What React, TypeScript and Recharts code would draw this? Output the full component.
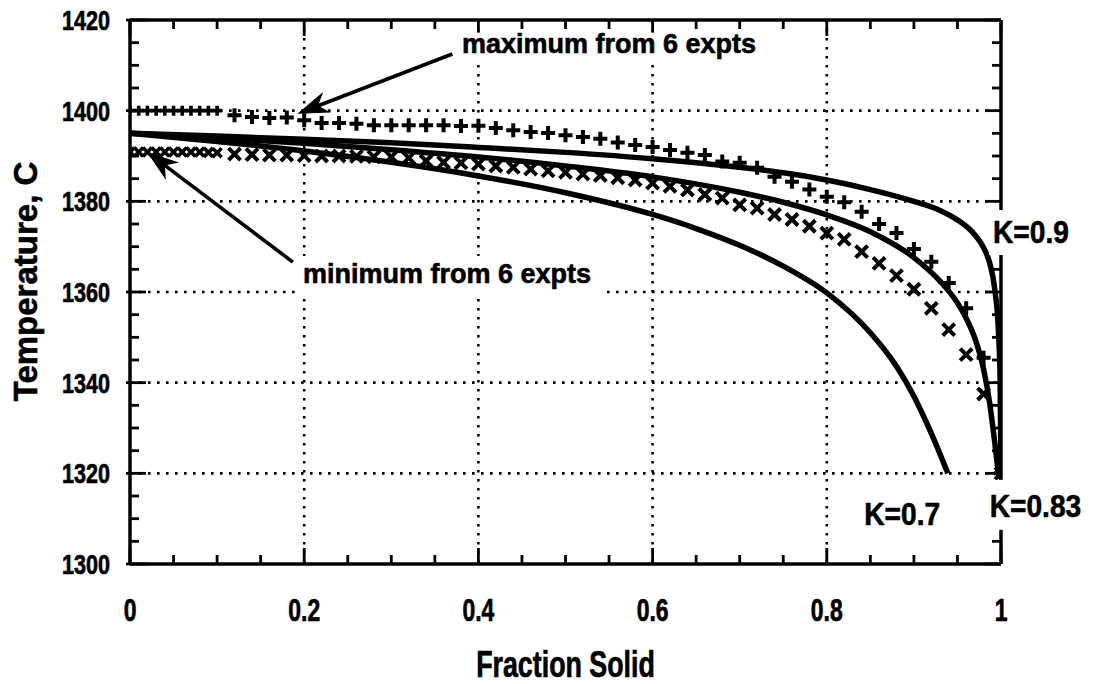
import React from 'react';
import {
  ComposedChart,
  Line,
  Scatter,
  XAxis,
  YAxis,
  CartesianGrid,
  ReferenceLine,
  ReferenceDot,
  Label,
} from 'recharts';

// ---------- axis ticks ----------
const xTicks = [0, 0.05, 0.1, 0.15, 0.2, 0.25, 0.3, 0.35, 0.4, 0.45, 0.5, 0.55, 0.6, 0.65, 0.7, 0.75, 0.8, 0.85, 0.9, 0.95, 1];
const yTicks = [1300, 1305, 1310, 1315, 1320, 1325, 1330, 1335, 1340, 1345, 1350, 1355, 1360, 1365, 1370, 1375, 1380, 1385, 1390, 1395, 1400, 1405, 1410, 1415, 1420];
const xGrid = [0.2, 0.4, 0.6, 0.8];
const yGrid = [1320, 1340, 1360, 1380, 1400];

// ---------- Scheil curves ----------
const k09X = [0, 0.1, 0.2, 0.3, 0.4, 0.5, 0.6, 0.7, 0.75, 0.8, 0.85, 0.9, 0.93, 0.95, 0.97, 0.98, 0.987, 0.993, 0.997, 0.999, 1.0];
const k09T = [1395.0, 1394.4, 1393.7, 1392.9, 1391.9, 1390.8, 1389.4, 1387.5, 1386.3, 1384.7, 1382.6, 1380.0, 1378.0, 1375.9, 1372.6, 1369.8, 1366.4, 1360.4, 1351.6, 1340.6, 1320.0];

const k083X = [0, 0.1, 0.2, 0.3, 0.4, 0.5, 0.6, 0.7, 0.75, 0.8, 0.85, 0.9, 0.93, 0.95, 0.96, 0.97, 0.98, 0.987, 0.993, 0.997];
const k083T = [1395.0, 1394.0, 1392.8, 1391.4, 1389.8, 1387.8, 1385.4, 1382.0, 1379.8, 1377.0, 1373.3, 1367.6, 1362.4, 1357.6, 1354.2, 1349.8, 1343.0, 1335.5, 1326.5, 1320.0];

const k07X = [0, 0.1, 0.2, 0.3, 0.4, 0.5, 0.6, 0.65, 0.7, 0.75, 0.8, 0.85, 0.88, 0.9, 0.92, 0.939];
const k07T = [1395.0, 1393.2, 1391.1, 1388.6, 1385.6, 1381.9, 1377.1, 1374.0, 1370.3, 1365.7, 1359.8, 1351.0, 1343.6, 1337.0, 1328.8, 1320.0];

// ---------- experimental bounds ----------
const denseX = [0, 0.01, 0.02, 0.03, 0.04, 0.05, 0.06, 0.07, 0.08, 0.09, 0.1];
const maxDenseT = [1400, 1400, 1400, 1400, 1400, 1400, 1400, 1400, 1400, 1400, 1400];
const minDenseT = [1390.9, 1390.9, 1390.9, 1390.9, 1390.9, 1390.9, 1390.9, 1390.9, 1390.9, 1390.8, 1390.7];

const sparseX = [0.12, 0.14, 0.16, 0.18, 0.2, 0.22, 0.24, 0.26, 0.28, 0.3, 0.32, 0.34, 0.36, 0.38, 0.4, 0.42, 0.44, 0.46, 0.48, 0.5, 0.52, 0.54, 0.56, 0.58, 0.6, 0.62, 0.64, 0.66, 0.68, 0.7, 0.72, 0.74, 0.76, 0.78, 0.8, 0.82, 0.84, 0.86, 0.88, 0.9, 0.92, 0.94, 0.96, 0.98, 1.0];
const maxT = [1399.0, 1398.6, 1398.4, 1398.5, 1397.9, 1397.3, 1397.3, 1397.1, 1396.8, 1396.8, 1396.8, 1396.8, 1396.8, 1396.6, 1396.7, 1396.2, 1395.7, 1395.3, 1395.1, 1394.6, 1394.2, 1393.8, 1393.0, 1392.4, 1392.0, 1391.3, 1390.7, 1390.2, 1388.8, 1388.5, 1387.4, 1385.4, 1384.3, 1382.6, 1381.0, 1379.8, 1377.7, 1375.0, 1373.0, 1369.5, 1366.7, 1362.0, 1356.4, 1345.5, 1320.0];
const minT = [1390.4, 1390.3, 1390.2, 1390.2, 1390.1, 1390.0, 1390.0, 1389.9, 1389.8, 1389.8, 1389.6, 1388.9, 1388.6, 1388.5, 1388.2, 1387.8, 1387.5, 1387.1, 1386.7, 1386.4, 1386.0, 1385.7, 1385.2, 1384.7, 1384.0, 1383.3, 1382.5, 1381.5, 1380.7, 1379.2, 1378.5, 1377.1, 1376.0, 1374.5, 1373.0, 1371.6, 1368.9, 1366.3, 1363.6, 1360.6, 1356.4, 1351.7, 1346.2, 1337.5, 1320.0];

// ---------- annotations (data coordinates) ----------
const maxArrow = [{ x: 0.370, y: 1412.5 }, { x: 0.192, y: 1399.3 }];
const minArrow = [{ x: 0.187, y: 1366.6 }, { x: 0.0195, y: 1390.9 }];
const maxLabelPos = { x: 0.3812, y: 1412.8 };
const minLabelPos = { x: 0.1986, y: 1362.0 };
const k09LabelPos = { x: 0.9908, y: 1370.8 };
const k083LabelPos = { x: 0.987, y: 1310.4 };
const k07LabelPos = { x: 0.843, y: 1308.6 };

const toPts = (xs: number[], ts: number[]) => xs.map((x, i) => ({ x, t: ts[i] }));

const k09 = toPts(k09X, k09T);
const k083 = toPts(k083X, k083T);
const k07 = toPts(k07X, k07T);
const maxDense = toPts(denseX, maxDenseT);
const minDense = toPts(denseX, minDenseT);
const maxSparse = toPts(sparseX, maxT);
const minSparse = toPts(sparseX, minT);

const FONT = '"Liberation Sans", Arial, Helvetica, sans-serif';
const INK = '#000';

const isMajor = (v: number, step: number) => Math.abs(v / step - Math.round(v / step)) < 1e-6;
const fmtX = (v: number) => (v === 0 ? '0' : v === 1 ? '1' : v.toFixed(1));

const BottomTick = (p: any) => {
  const { x, y, payload } = p;
  const v = payload.value;
  const major = isMajor(v, 0.2);
  return (
    <g>
      <path d={`M${x},${y}V${y - (major ? 16 : 9)}`} stroke={INK} strokeWidth={2.8} fill="none" />
      {major && (
        <text
          transform={`translate(${x},${y + 57}) scale(0.74,1)`}
          textAnchor="middle"
          fontSize={31}
          fontWeight="bold"
          fontFamily={FONT}
          fill={INK}
          stroke={INK}
          strokeWidth={0.7}
        >
          {fmtX(v)}
        </text>
      )}
    </g>
  );
};

const TopTick = (p: any) => {
  const { x, y, payload } = p;
  const major = isMajor(payload.value, 0.2);
  return <path d={`M${x},${y}V${y + (major ? 16 : 9)}`} stroke={INK} strokeWidth={2.8} fill="none" />;
};

const LeftTick = (p: any) => {
  const { x, y, payload } = p;
  const v = payload.value;
  const major = isMajor(v, 20);
  return (
    <g>
      <path d={`M${x - (major ? 4 : 0)},${y}H${x + (major ? 16 : 9)}`} stroke={INK} strokeWidth={2.8} fill="none" />
      {major && (
        <text
          transform={`translate(${x - 20},${y + 10}) scale(0.77,1)`}
          textAnchor="end"
          fontSize={28}
          fontWeight="bold"
          fontFamily={FONT}
          fill={INK}
          stroke={INK}
          strokeWidth={0.7}
        >
          {String(v)}
        </text>
      )}
    </g>
  );
};

const RightTick = (p: any) => {
  const { x, y, payload } = p;
  const major = isMajor(payload.value, 20);
  return <path d={`M${x},${y}H${x - (major ? 16 : 9)}`} stroke={INK} strokeWidth={2.8} fill="none" />;
};

const plusShape = (size: number, sw: number) => (p: any) => {
  const { cx, cy } = p;
  return (
    <path d={`M${cx - size},${cy}H${cx + size}M${cx},${cy - size}V${cy + size}`} stroke={INK} strokeWidth={sw} fill="none" />
  );
};

const crossShape = (size: number, sw: number) => (p: any) => {
  const { cx, cy } = p;
  return (
    <path
      d={`M${cx - size},${cy - size}L${cx + size},${cy + size}M${cx - size},${cy + size}L${cx + size},${cy - size}`}
      stroke={INK}
      strokeWidth={sw}
      fill="none"
    />
  );
};

const arrowShape = (p: any) => {
  const { x1, y1, x2, y2 } = p;
  const ang = Math.atan2(y2 - y1, x2 - x1);
  const len = 32;
  const hw = 11;
  const bx = x2 - len * Math.cos(ang);
  const by = y2 - len * Math.sin(ang);
  const px = -Math.sin(ang) * hw;
  const py = Math.cos(ang) * hw;
  const nx = bx + 0.3 * (x2 - bx);
  const ny = by + 0.3 * (y2 - by);
  return (
    <g>
      <path d={`M${x1},${y1}L${nx},${ny}`} stroke={INK} strokeWidth={3.6} fill="none" />
      <polygon points={`${x2},${y2} ${bx + px},${by + py} ${nx},${ny} ${bx - px},${by - py}`} fill={INK} />
    </g>
  );
};

const textShape = (label: string, fontSize: number, scaleX: number, box: number[] | null) => (p: any) => {
  const { cx, cy } = p;
  return (
    <g>
      {box && <rect x={cx + box[0]} y={cy + box[1]} width={box[2]} height={box[3]} fill="#fff" />}
      <text
        transform={`translate(${cx},${cy}) scale(${scaleX},1)`}
        fontSize={fontSize}
        fontWeight="bold"
        fontFamily={FONT}
        fill={INK}
        stroke={INK}
        strokeWidth={0.6}
      >
        {label}
      </text>
    </g>
  );
};

const YTitle = (p: any) => {
  const vb = p.viewBox || { x: 0, y: 20, width: 130, height: 544 };
  const cx = vb.x + 25;
  const cy = vb.y + vb.height / 2 - 10.5;
  return (
    <text
      x={cx}
      y={cy + 12}
      transform={`rotate(-90, ${cx}, ${cy})`}
      textAnchor="middle"
      fontSize={33}
      fontWeight="bold"
      fontFamily={FONT}
      fill={INK}
      stroke={INK}
      strokeWidth={0.6}
    >
      Temperature, C
    </text>
  );
};

const XTitle = (p: any) => {
  const vb = p.viewBox || { x: 130, y: 564, width: 871, height: 120 };
  const cx = vb.x + vb.width / 2;
  const by = vb.y + 113;
  return (
    <text
      transform={`translate(${cx},${by}) scale(0.725,1)`}
      textAnchor="middle"
      fontSize={37}
      fontWeight="bold"
      fontFamily={FONT}
      fill={INK}
      stroke={INK}
      strokeWidth={0.7}
    >
      Fraction Solid
    </text>
  );
};

export default function App() {
  return (
    <div style={{ position: 'absolute', left: 0, top: 0, width: 1094, height: 684, background: '#fff' }}>
      <ComposedChart width={1094} height={684} margin={{ top: 19, right: 92, bottom: 0, left: 0 }}>
        <CartesianGrid
          stroke={INK}
          strokeWidth={2.6}
          strokeDasharray="2.6 6.4"
          horizontalValues={yGrid}
          verticalValues={xGrid}
        />
        <XAxis
          xAxisId={0}
          type="number"
          dataKey="x"
          domain={[0, 1]}
          allowDataOverflow
          ticks={xTicks}
          interval={0}
          height={120}
          tickSize={0}
          tickMargin={0}
          tickLine={false}
          axisLine={{ stroke: INK, strokeWidth: 3.5 }}
          tick={(p: any) => <BottomTick {...p} />}
        >
          <Label content={(p: any) => <XTitle {...p} />} />
        </XAxis>
        <XAxis
          xAxisId="top"
          orientation="top"
          type="number"
          dataKey="x"
          domain={[0, 1]}
          allowDataOverflow
          ticks={xTicks}
          interval={0}
          height={1}
          tickSize={0}
          tickMargin={0}
          tickLine={false}
          axisLine={{ stroke: INK, strokeWidth: 3.5 }}
          tick={(p: any) => <TopTick {...p} />}
        />
        <YAxis
          yAxisId={0}
          type="number"
          dataKey="t"
          domain={[1300, 1420]}
          allowDataOverflow
          ticks={yTicks}
          interval={0}
          width={130}
          tickSize={0}
          tickMargin={0}
          tickLine={false}
          axisLine={{ stroke: INK, strokeWidth: 3.5 }}
          tick={(p: any) => <LeftTick {...p} />}
        >
          <Label content={(p: any) => <YTitle {...p} />} />
        </YAxis>
        <YAxis
          yAxisId="right"
          orientation="right"
          type="number"
          dataKey="t"
          domain={[1300, 1420]}
          allowDataOverflow
          ticks={yTicks}
          interval={0}
          width={1}
          tickSize={0}
          tickMargin={0}
          tickLine={false}
          axisLine={{ stroke: INK, strokeWidth: 3.5 }}
          tick={(p: any) => <RightTick {...p} />}
        />

        <Line data={k09} dataKey="t" type="monotone" stroke={INK} strokeWidth={5.5} dot={false} isAnimationActive={false} />
        <Line data={k083} dataKey="t" type="monotone" stroke={INK} strokeWidth={5.5} dot={false} isAnimationActive={false} />
        <Line data={k07} dataKey="t" type="monotone" stroke={INK} strokeWidth={5.5} dot={false} isAnimationActive={false} />

        <Scatter data={maxDense} shape={plusShape(5, 3.6)} isAnimationActive={false} />
        <Scatter data={minDense} shape={crossShape(4.5, 3.6)} isAnimationActive={false} />
        <Scatter data={maxSparse} shape={plusShape(7, 4)} isAnimationActive={false} />
        <Scatter data={minSparse} shape={crossShape(6, 4)} isAnimationActive={false} />

        <ReferenceLine segment={maxArrow} shape={arrowShape} ifOverflow="visible" zIndex={2100} />
        <ReferenceLine segment={minArrow} shape={arrowShape} ifOverflow="visible" zIndex={2100} />

        <ReferenceDot x={maxLabelPos.x} y={maxLabelPos.y} r={0} ifOverflow="visible" zIndex={2100}
          shape={textShape('maximum from 6 expts', 27, 1, [-6, -20, 305, 32])} />
        <ReferenceDot x={minLabelPos.x} y={minLabelPos.y} r={0} ifOverflow="visible" zIndex={2100}
          shape={textShape('minimum from 6 expts', 27, 1, [-4, -27, 308, 39])} />
        <ReferenceDot x={k09LabelPos.x} y={k09LabelPos.y} r={0} ifOverflow="visible" zIndex={2100}
          shape={textShape('K=0.9', 32, 0.88, [-4, -33, 84, 45])} />
        <ReferenceDot x={k083LabelPos.x} y={k083LabelPos.y} r={0} ifOverflow="visible" zIndex={2100}
          shape={textShape('K=0.83', 32, 0.88, [-4, -37, 100, 50])} />
        <ReferenceDot x={k07LabelPos.x} y={k07LabelPos.y} r={0} ifOverflow="visible" zIndex={2100}
          shape={textShape('K=0.7', 32, 0.88, null)} />
      </ComposedChart>
    </div>
  );
}
